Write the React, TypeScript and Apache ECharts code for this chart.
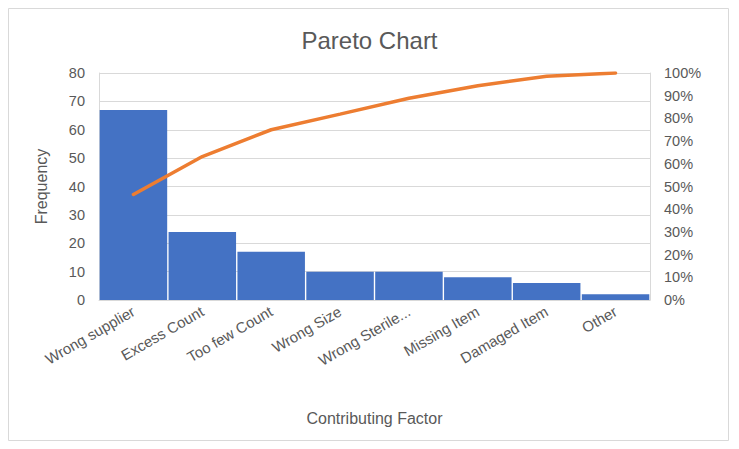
import { useEffect, useRef } from "react";
import * as echarts from "echarts";

const categories = [
  "Wrong supplier",
  "Excess Count",
  "Too few Count",
  "Wrong Size",
  "Wrong Sterile...",
  "Missing Item",
  "Damaged Item",
  "Other",
];
const frequency = [67, 24, 17, 10, 10, 8, 6, 2];
const cumulativePct = [46.5, 63.2, 75.0, 81.9, 88.9, 94.4, 98.6, 100];

const FONT = "'Liberation Sans', Arial, sans-serif";
const TEXT = "#595959";
const GRID = "#d9d9d9";

function ParetoChart() {
  const chartRef = useRef(null);

  useEffect(() => {
    document.body.style.margin = "0";
    const chart = echarts.init(chartRef.current, null, { renderer: "svg" });

    const option = {
      animation: false,
      textStyle: { fontFamily: FONT },
      title: {
        text: "Pareto Chart",
        left: "center",
        top: 23,
        textStyle: { fontFamily: FONT, fontSize: 24, fontWeight: "normal", color: TEXT },
      },
      graphic: [
        {
          type: "rect",
          shape: { x: 8.5, y: 8.5, width: 720, height: 432 },
          style: { fill: "none", stroke: GRID, lineWidth: 1 },
          silent: true,
        },
      ],
      grid: { left: 99, right: 89, top: 73, bottom: 149 },
      xAxis: {
        type: "category",
        data: categories,
        name: "Contributing Factor",
        nameLocation: "middle",
        nameGap: 110,
        nameTextStyle: { fontSize: 16, color: TEXT },
        axisLine: { lineStyle: { color: GRID } },
        axisTick: { show: false },
        axisLabel: { rotate: 30, fontSize: 15, color: TEXT, margin: 10, interval: 0 },
      },
      yAxis: [
        {
          type: "value",
          min: 0,
          max: 80,
          interval: 10,
          name: "Frequency",
          nameLocation: "middle",
          nameGap: 50,
          nameTextStyle: { fontSize: 16, color: TEXT },
          axisLine: { show: true, lineStyle: { color: GRID } },
          axisLabel: { fontSize: 14.5, color: TEXT, margin: 14 },
          splitLine: { lineStyle: { color: GRID } },
        },
        {
          type: "value",
          min: 0,
          max: 100,
          interval: 10,
          position: "right",
          axisLine: { show: true, lineStyle: { color: GRID } },
          axisLabel: { fontSize: 14.5, color: TEXT, margin: 14, formatter: "{value}%" },
          splitLine: { show: false },
        },
      ],
      series: [
        {
          name: "Frequency",
          type: "bar",
          data: frequency,
          barCategoryGap: "2%",
          itemStyle: { color: "#4472C4" },
        },
        {
          name: "Cumulative %",
          type: "line",
          yAxisIndex: 1,
          data: cumulativePct,
          symbol: "none",
          lineStyle: { color: "#ED7D31", width: 3.5, cap: "round" },
        },
      ],
    };

    chart.setOption(option);

    return () => {
      chart.dispose();
    };
  }, []);

  return <div ref={chartRef} style={{ width: "739px", height: "449px" }} />;
}

export default function App() {
  return <ParetoChart />;
}
